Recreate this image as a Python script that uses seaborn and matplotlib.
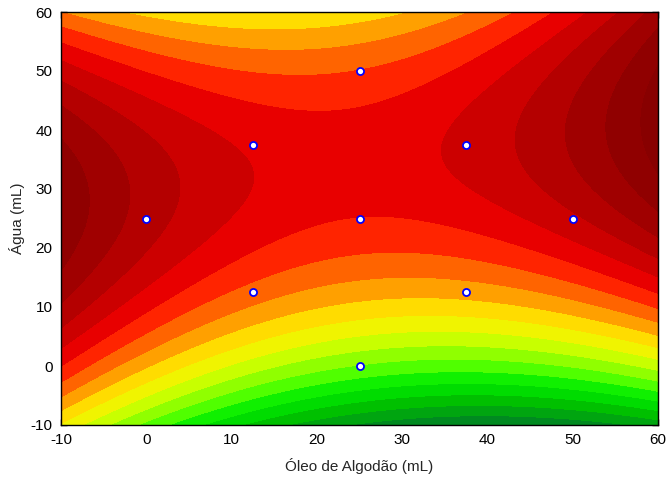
import numpy as np
import pandas as pd
import matplotlib
matplotlib.use("Agg")
import matplotlib.pyplot as plt
from matplotlib.colors import ListedColormap, BoundaryNorm
import seaborn as sns

# design points (central composite) and response read from the surface
oleo = [0, 12.5, 12.5, 25, 25, 25, 37.5, 37.5, 50]
agua = [25, 12.5, 37.5, 0, 25, 50, 12.5, 37.5, 25]
resposta = [16.52, 12.58, 14.81, 6.92, 13.97, 13.03, 11.40, 15.27, 15.79]

x_ticks = [-10, 0, 10, 20, 30, 40, 50, 60]
y_ticks = [-10, 0, 10, 20, 30, 40, 50, 60]

band_colors = ["#006838", "#008a20", "#00a510", "#00c000", "#00dc00",
               "#10f000", "#50ff00", "#90ff00", "#c8ff00", "#f0f400",
               "#ffdc00", "#ffa000", "#ff6400", "#ff2400", "#e80000",
               "#cc0000", "#b40000", "#a00000", "#900000", "#880000", "#800000"]

df = pd.DataFrame({"oleo": oleo, "agua": agua, "resp": resposta})

# quadratic response surface fit
def design(x, y):
    return np.column_stack([np.ones_like(x), x, y, x**2, y**2, x*y])

coef, *_ = np.linalg.lstsq(design(df.oleo.values.astype(float), df.agua.values.astype(float)),
                           df.resp.values, rcond=None)

gx = np.linspace(-10, 60, 400)
gy = np.linspace(-10, 60, 400)
GX, GY = np.meshgrid(gx, gy)
Z = (design(GX.ravel(), GY.ravel()) @ coef).reshape(GX.shape)

sns.set_theme(style="ticks")
plt.rcParams["font.family"] = ["Liberation Sans", "DejaVu Sans"]
plt.rcParams["axes.unicode_minus"] = False

fig = plt.figure(figsize=(6.7, 4.83), dpi=100)
ax = fig.add_axes([61/670, 1-425/483, 597/670, 413/483])

bounds = np.concatenate([[-100], np.arange(1, 21), [100]])
cmap = ListedColormap(band_colors)
norm = BoundaryNorm(bounds, cmap.N)
ax.contourf(GX, GY, Z, levels=bounds, cmap=cmap, norm=norm)

sns.scatterplot(data=df, x="oleo", y="agua", ax=ax, marker="o", s=26,
                color="white", edgecolor="#0000ff", linewidth=1.3, zorder=5, legend=False)

ax.set_xlim(-10, 60)
ax.set_ylim(-10, 60)
ax.set_xticks(x_ticks)
ax.set_yticks(y_ticks)
ax.tick_params(direction="in", length=4, width=1, top=True, right=True,
               labelsize=11, colors="black", pad=6)
for s in ax.spines.values():
    s.set_linewidth(1)
    s.set_color("black")
    s.set_zorder(10)
ax.set_xlabel("Óleo de Algodão (mL)", fontsize=11, labelpad=8)
ax.set_ylabel("Água (mL)", fontsize=11, labelpad=4)

fig.savefig("out.png", dpi=100)
